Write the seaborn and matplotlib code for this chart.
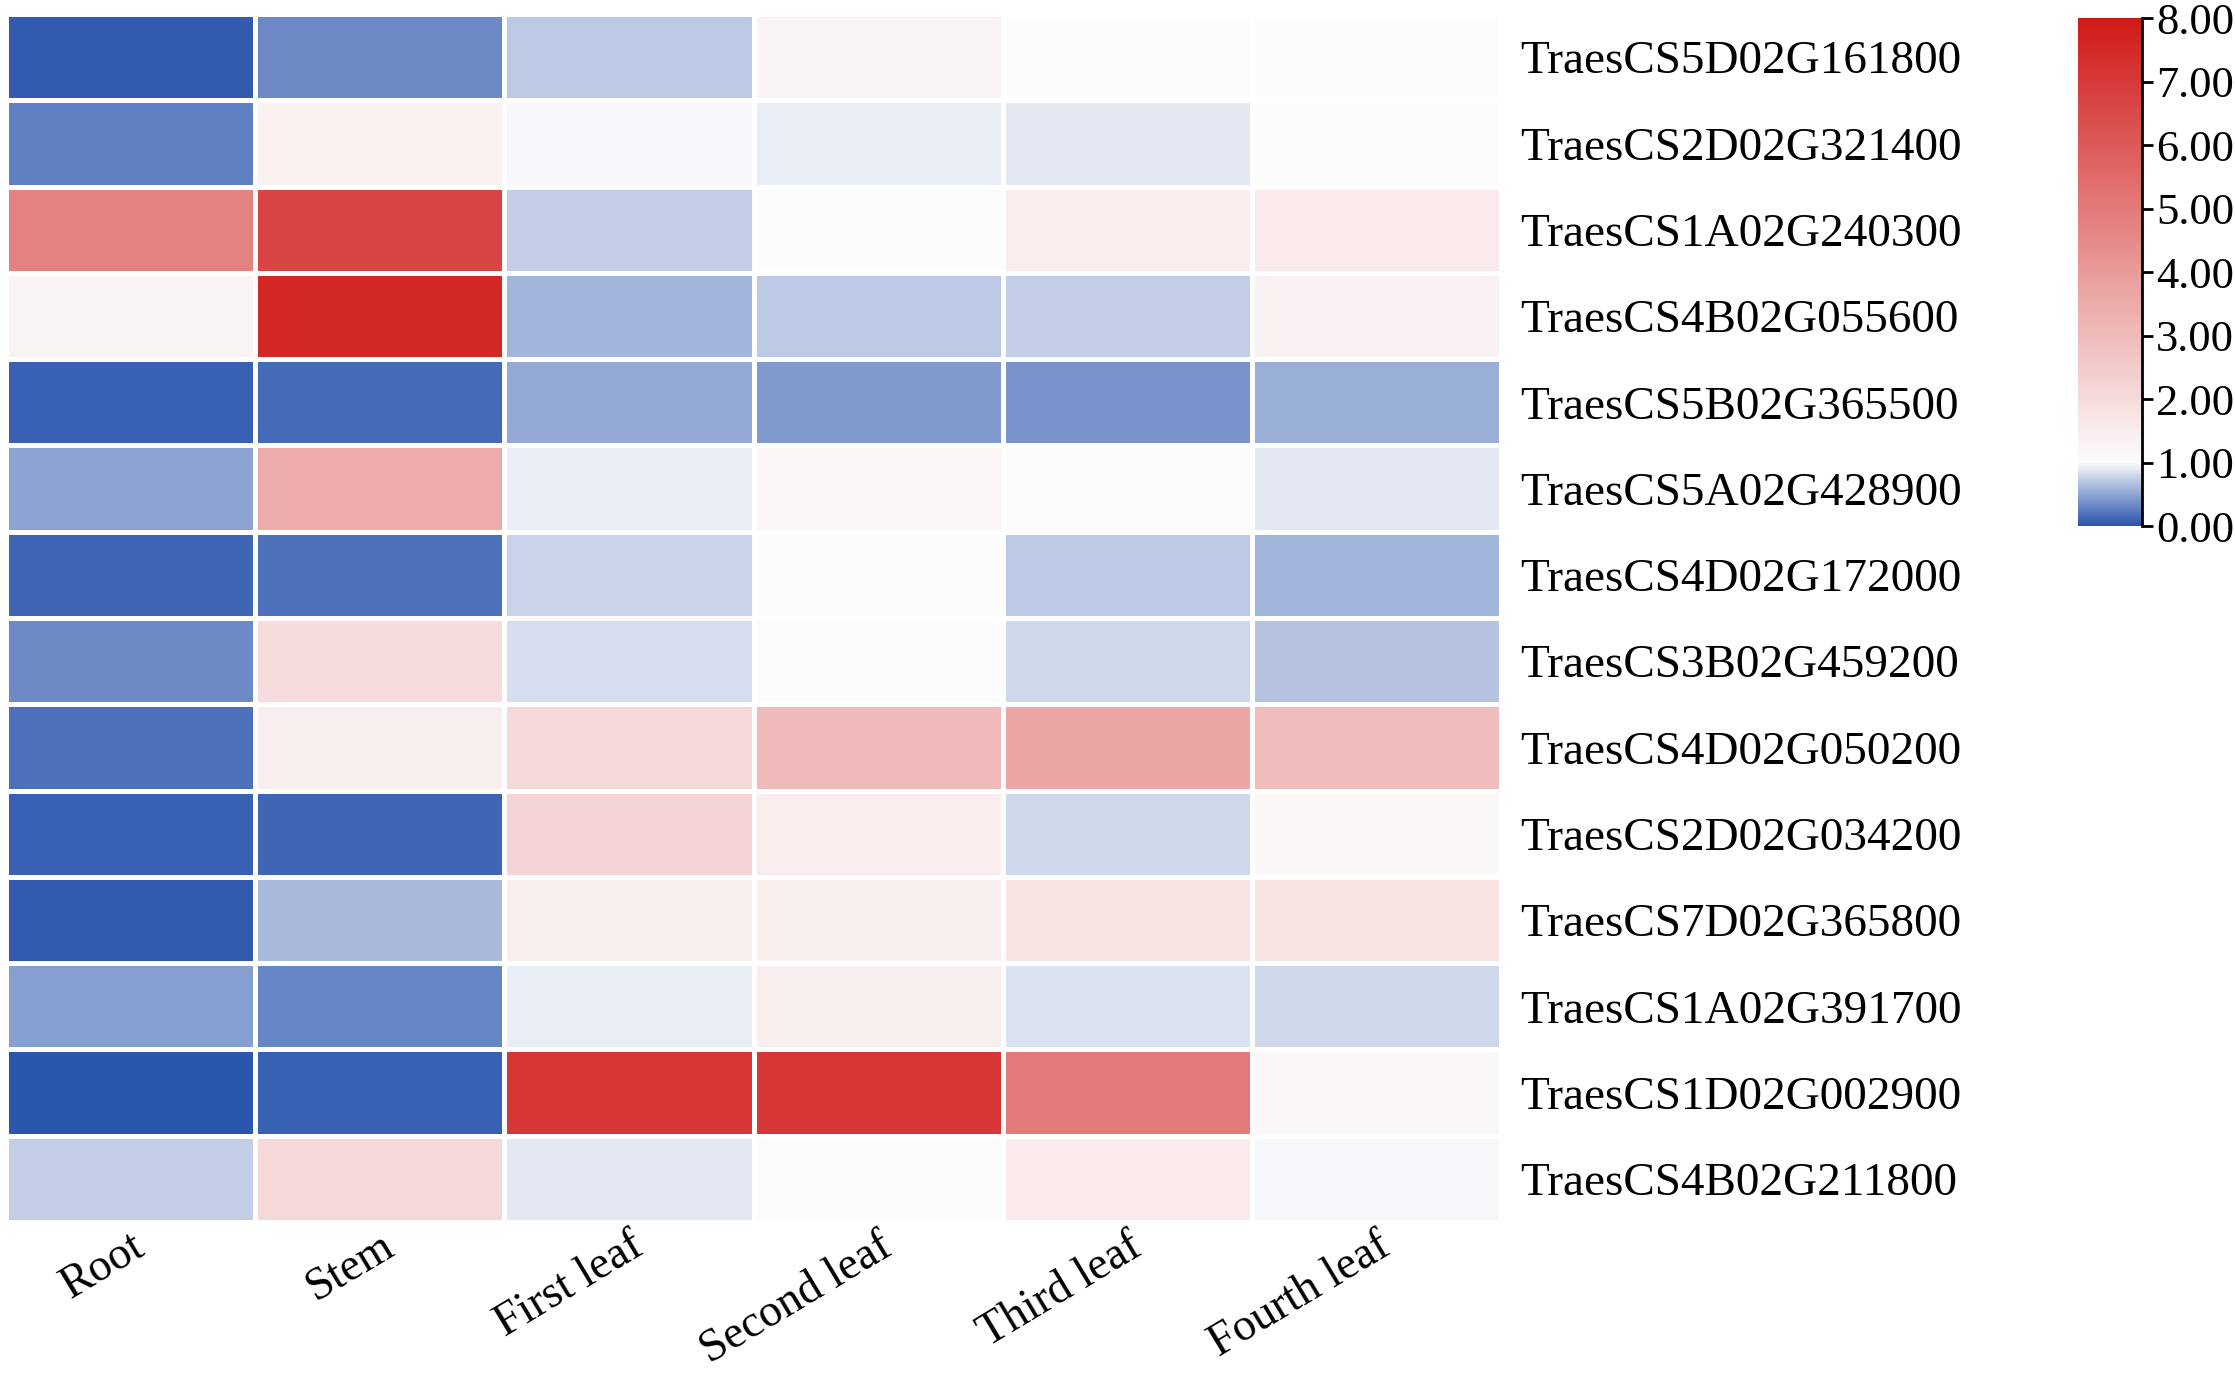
import numpy as np
import pandas as pd
import matplotlib
matplotlib.use('Agg')
import matplotlib.pyplot as plt
import seaborn as sns
from matplotlib.colors import LinearSegmentedColormap
from matplotlib.ticker import FormatStrFormatter

# gene ids (rows) and tissues (columns)
genes = ['TraesCS5D02G161800', 'TraesCS2D02G321400', 'TraesCS1A02G240300',
         'TraesCS4B02G055600', 'TraesCS5B02G365500', 'TraesCS5A02G428900',
         'TraesCS4D02G172000', 'TraesCS3B02G459200', 'TraesCS4D02G050200',
         'TraesCS2D02G034200', 'TraesCS7D02G365800', 'TraesCS1A02G391700',
         'TraesCS1D02G002900', 'TraesCS4B02G211800']
tissues = ['Root', 'Stem', 'First leaf', 'Second leaf', 'Third leaf', 'Fourth leaf']

# relative expression per tissue
root = [0.06, 0.26, 4.78, 1.31, 0.07, 0.48, 0.10, 0.32, 0.17, 0.075, 0.05, 0.46, 0.0, 0.73]
stem = [0.32, 1.37, 6.66, 7.56, 0.15, 3.47, 0.18, 1.97, 1.44, 0.11, 0.60, 0.30, 0.08, 2.09]
first_leaf = [0.69, 0.97, 0.73, 0.59, 0.52, 0.92, 0.75, 0.83, 2.09, 2.22, 1.44, 0.91, 7.09, 0.89]
second_leaf = [1.28, 0.93, 1.02, 0.70, 0.42, 1.22, 1.0, 1.03, 3.06, 1.47, 1.41, 1.44, 7.09, 1.03]
third_leaf = [1.03, 0.89, 1.53, 0.73, 0.38, 1.0, 0.69, 0.79, 3.69, 0.79, 1.81, 0.85, 5.03, 1.56]
fourth_leaf = [1.02, 1.0, 1.56, 1.34, 0.55, 0.90, 0.59, 0.66, 2.94, 1.16, 1.78, 0.80, 1.16, 0.97]

cbar_ticks = [0, 1, 2, 3, 4, 5, 6, 7, 8]

df = pd.DataFrame({'Root': root, 'Stem': stem, 'First leaf': first_leaf,
                   'Second leaf': second_leaf, 'Third leaf': third_leaf,
                   'Fourth leaf': fourth_leaf}, index=genes)[tissues]

plt.rcParams['font.family'] = ['Liberation Serif', 'DejaVu Serif']

cmap = LinearSegmentedColormap.from_list(
    'bwr_tb', [(0.0, '#2B56AE'), (0.125, '#FCFCFC'), (1.0, '#D01A18')], N=256)

fig = plt.figure(figsize=(22.35, 13.76), dpi=100)
ax = fig.add_axes([0.0027, 0.1119, 0.6689, 0.8779])
cax = fig.add_axes([0.9298, 0.6177, 0.0286, 0.3689])

sns.heatmap(df, ax=ax, cbar_ax=cax, cmap=cmap, vmin=0, vmax=8,
            linewidths=2.5, linecolor='white', cbar_kws={'ticks': cbar_ticks})

# gene names on the right
ax.yaxis.tick_right()
ax.set_yticklabels(genes, rotation=0, fontsize=34, ha='left', va='center_baseline')
ax.tick_params(axis='y', length=0, pad=14)

ax.set_xticklabels(tissues, rotation=31, ha='right', rotation_mode='anchor',
                   fontsize=33)
ax.tick_params(axis='x', length=0, pad=2)
ax.set_xlabel('')
ax.set_ylabel('')

# colorbar styling
cbar = ax.collections[0].colorbar
cbar.outline.set_visible(False)
cax.spines['right'].set_visible(True)
cax.spines['right'].set_linewidth(2)
cax.spines['right'].set_color('black')
cax.yaxis.set_major_formatter(FormatStrFormatter('%.2f'))
cax.tick_params(labelsize=32, length=8, width=2, pad=2)

fig.savefig('out.png', dpi=100)
